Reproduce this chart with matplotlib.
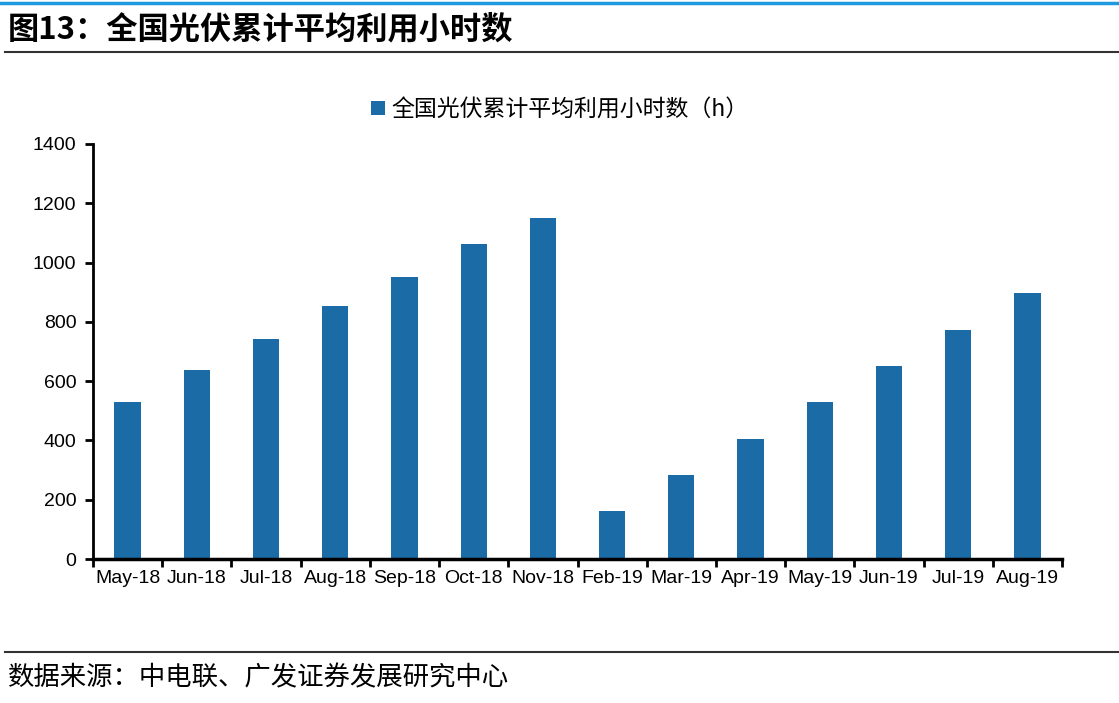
import numpy as np
import matplotlib.pyplot as plt
from matplotlib.lines import Line2D

plt.rcParams['font.family'] = ['Liberation Sans', 'Noto Sans CJK SC']

months = ['May-18', 'Jun-18', 'Jul-18', 'Aug-18', 'Sep-18', 'Oct-18', 'Nov-18',
          'Feb-19', 'Mar-19', 'Apr-19', 'May-19', 'Jun-19', 'Jul-19', 'Aug-19']
hours = [530, 638, 742, 853, 951, 1063, 1150, 163, 283, 405, 531, 651, 772, 896]

title = '图13：全国光伏累计平均利用小时数'
series_name = '全国光伏累计平均利用小时数（h）'
source = '数据来源：中电联、广发证券发展研究中心'

bar_color = '#1B6BA6'

fig = plt.figure(figsize=(11.19, 7.03), dpi=100)
ax = fig.add_axes([93/1119, 1 - 559/703, (1062-93)/1119, (559-144)/703])

x = np.arange(len(months))
ax.bar(x, hours, width=0.38, color=bar_color, label=series_name)

ax.set_xlim(-0.5, len(months) - 0.5)
ax.set_ylim(0, 1400)
ax.set_yticks(np.arange(0, 1401, 200))
ax.set_xticks(x)
ax.set_xticklabels(months, fontsize=14)
ax.tick_params(axis='x', length=0, pad=8)
ax.set_xticks(np.arange(-0.5, len(months), 1), minor=True)
ax.tick_params(axis='x', which='minor', length=6, width=2, direction='out')
ax.tick_params(axis='y', labelsize=14, length=6, width=2, direction='out', pad=6)
for s in ['top', 'right']:
    ax.spines[s].set_visible(False)
ax.spines['left'].set_linewidth(2)
ax.spines['bottom'].set_linewidth(2.5)

ax.legend(loc='upper center', bbox_to_anchor=(0.482, 1.16), frameon=False,
          prop={'family': 'Noto Sans CJK SC', 'size': 16.5},
          handlelength=0.6, handleheight=0.6, handletextpad=0.3)

# header / footer decorations
fig.add_artist(Line2D([0, 1], [1 - 3/703, 1 - 3/703], color='#1E9BE0', lw=2.5))
fig.add_artist(Line2D([5/1119, 1], [1 - 52/703, 1 - 52/703], color='#333333', lw=1.5))
fig.add_artist(Line2D([5/1119, 1], [1 - 652/703, 1 - 652/703], color='#333333', lw=1.5))
fig.text(8/1119, 1 - 29/703, title, fontsize=22.5, fontweight='bold',
         family=['Noto Sans CJK SC'], va='center', ha='left')
fig.text(8/1119, 1 - 678/703, source, fontsize=19,
         family=['Noto Sans CJK SC'], va='center', ha='left')

fig.savefig('out.png', dpi=100)
